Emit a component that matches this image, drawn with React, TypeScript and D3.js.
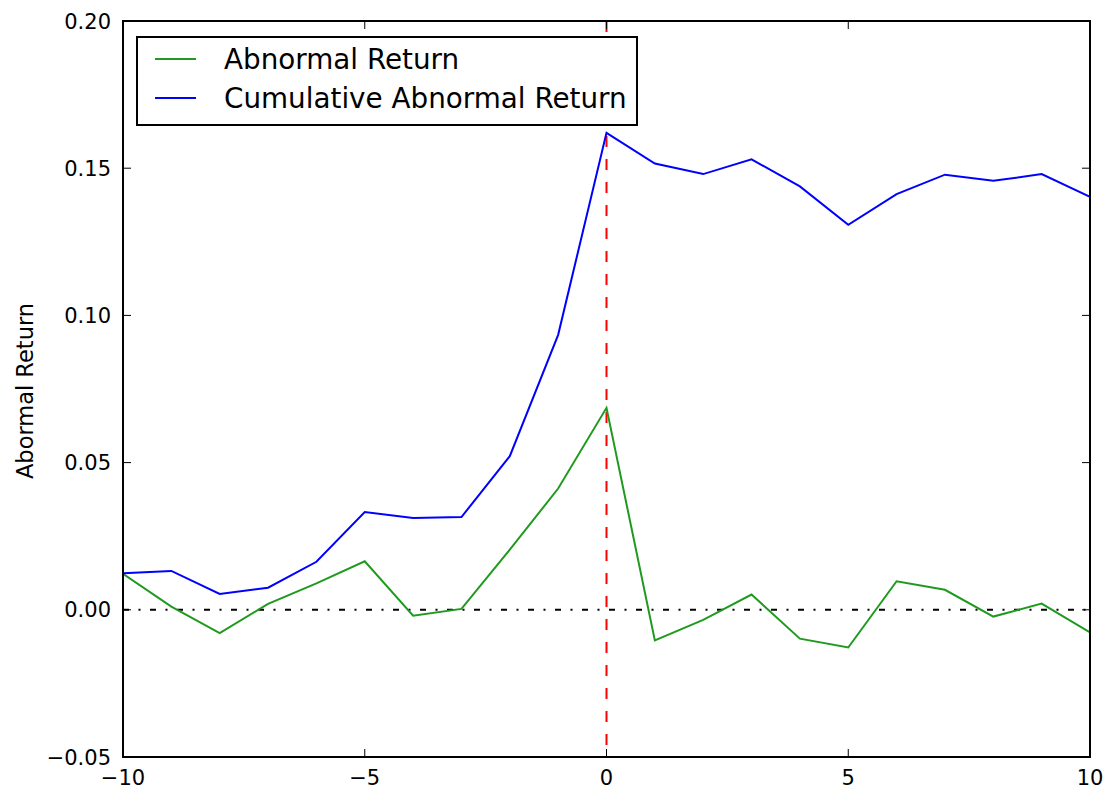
import React from 'react';
import * as d3 from 'd3';

// event window days
const days = [-10, -9, -8, -7, -6, -5, -4, -3, -2, -1, 0, 1, 2, 3, 4, 5, 6, 7, 8, 9, 10];

// daily abnormal return (green)
const abnormal = [
  0.0122, 0.0011, -0.0079, 0.002, 0.009, 0.0165, -0.002, 0.0003, 0.0204, 0.0412, 0.0686,
  -0.0104, -0.0034, 0.0052, -0.0098, -0.0128, 0.0097, 0.0068, -0.0023, 0.0021, -0.0077,
];

// cumulative abnormal return (blue)
const cumulative = [
  0.0124, 0.0132, 0.0054, 0.0075, 0.0163, 0.0332, 0.0312, 0.0315, 0.0522, 0.0934, 0.162,
  0.1516, 0.148, 0.153, 0.1438, 0.1308, 0.1412, 0.1478, 0.1457, 0.148, 0.1403,
];

const xTicks = [-10, -5, 0, 5, 10];
const yTicks = [-0.05, 0, 0.05, 0.1, 0.15, 0.2];

const seriesNames = ['Abnormal Return', 'Cumulative Abnormal Return'];
const seriesColors = ['#1f9a1f', '#0000ff'];
const yLabel = 'Abormal Return';

const W = 1109;
const H = 795;
const margin = { top: 21, right: 19, bottom: 38, left: 123 };
const font = '"DejaVu Sans", sans-serif';

const App = () => {
  const x = d3.scaleLinear().domain([-10, 10]).range([margin.left, W - margin.right]);
  const y = d3.scaleLinear().domain([-0.05, 0.2]).range([H - margin.bottom, margin.top]);

  const line = d3
    .line<number>()
    .x((_, i) => x(days[i]))
    .y((d) => y(d));

  const [x0, x1] = x.range();
  const [y0, y1] = y.range(); // y0 bottom, y1 top
  const tick = 8;

  const fmtY = (v: number) => d3.format('.2f')(v).replace('-', '\u2212');
  const fmtX = (v: number) => String(v).replace('-', '\u2212');

  return (
    <div style={{ position: 'absolute', left: 0, top: 0 }}>
      <svg width={W} height={H} style={{ display: 'block', background: '#fff' }}>
        <defs>
          <clipPath id="plot">
            <rect x={x0} y={y1} width={x1 - x0} height={y0 - y1} />
          </clipPath>
        </defs>

        <g clipPath="url(#plot)">
          {/* zero line */}
          <line x1={x0} x2={x1} y1={y(0)} y2={y(0)} stroke="#000" strokeWidth={2} strokeDasharray="6 9.5 2 9.5" />
          {/* event day */}
          <line x1={x(0)} x2={x(0)} y1={y1} y2={y0} stroke="#ff0000" strokeWidth={2} strokeDasharray="11 12" />
          <path d={line(abnormal) || ''} fill="none" stroke={seriesColors[0]} strokeWidth={2} />
          <path d={line(cumulative) || ''} fill="none" stroke={seriesColors[1]} strokeWidth={2} />
        </g>

        {/* ticks, pointing inward on all four sides */}
        {xTicks.map((t) => (
          <g key={'x' + t}>
            <line x1={x(t)} x2={x(t)} y1={y0} y2={y0 - tick} stroke="#000" strokeWidth={1} />
            <line x1={x(t)} x2={x(t)} y1={y1} y2={y1 + tick} stroke="#000" strokeWidth={1} />
            <text x={x(t)} y={y0 + 28} textAnchor="middle" fontFamily={font} fontSize={21} fill="#000">
              {fmtX(t)}
            </text>
          </g>
        ))}
        {yTicks.map((t) => (
          <g key={'y' + t}>
            <line x1={x0} x2={x0 + tick} y1={y(t)} y2={y(t)} stroke="#000" strokeWidth={1} />
            <line x1={x1} x2={x1 - tick} y1={y(t)} y2={y(t)} stroke="#000" strokeWidth={1} />
            <text x={x0 - 12} y={y(t)} dy="0.36em" textAnchor="end" fontFamily={font} fontSize={21} fill="#000">
              {fmtY(t)}
            </text>
          </g>
        ))}

        <rect x={x0} y={y1} width={x1 - x0} height={y0 - y1} fill="none" stroke="#000" strokeWidth={2} />

        <text
          transform={`translate(33,${(y0 + y1) / 2 + 2}) rotate(-90)`}
          textAnchor="middle"
          fontFamily={font}
          fontSize={22.5}
          fill="#000"
        >
          {yLabel}
        </text>

        {/* legend */}
        <g>
          <rect x={137} y={37} width={500} height={88} fill="#fff" stroke="#000" strokeWidth={2} />
          {seriesNames.map((name, i) => (
            <g key={name} transform={`translate(0,${59 + i * 39})`}>
              <line x1={155} x2={196} y1={0} y2={0} stroke={seriesColors[i]} strokeWidth={2} />
              <text x={224} y={0} dy="0.36em" fontFamily={font} fontSize={27.8} fill="#000">
                {name}
              </text>
            </g>
          ))}
        </g>
      </svg>
    </div>
  );
};

export default App;
